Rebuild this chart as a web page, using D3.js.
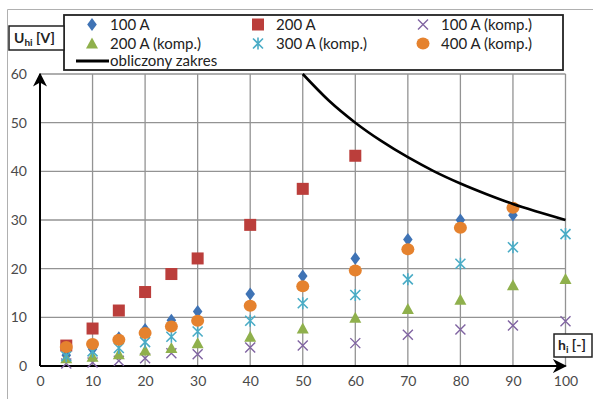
<!DOCTYPE html>
<html>
<head>
<meta charset="utf-8">
<script src="https://cdn.jsdelivr.net/npm/d3@7"></script>
<style>
  body { margin: 0; background: #fff; }
  svg { display: block; font-family: Lato, "Open Sans", sans-serif; }
</style>
</head>
<body>
<div id="chart"></div>
<script>
// data
const hValues = [5, 10, 15, 20, 25, 30, 40, 50, 60, 70, 80, 90, 100];
const xTicks = [0, 10, 20, 30, 40, 50, 60, 70, 80, 90, 100];
const yTicks = [0, 10, 20, 30, 40, 50, 60];

const u100 = [2.2, 3.5, 5.8, 7.5, 9.4, 11.2, 14.8, 18.5, 22.1, 26.0, 30.0, 31.0, null];
const u200 = [4.2, 7.7, 11.4, 15.2, 18.9, 22.1, 29.0, 36.4, 43.2, null, null, null, null];
const u100k = [0.5, 0.7, 1.1, 1.6, 2.6, 2.4, 3.8, 4.2, 4.7, 6.4, 7.5, 8.3, 9.2];
const u200k = [1.6, 1.9, 2.4, 3.2, 3.7, 4.7, 6.0, 7.7, 9.9, 11.7, 13.6, 16.6, 17.9];
const u300k = [2.0, 3.0, 3.7, 4.9, 6.0, 7.1, 9.3, 12.9, 14.6, 17.8, 21.0, 24.4, 27.1];
const u400k = [3.9, 4.5, 5.4, 6.8, 8.1, 9.3, 12.4, 16.4, 19.6, 24.0, 28.4, 32.5, null];

const limitH = [50, 55, 60, 65, 70, 75, 80, 85, 90, 95, 100];
const limitU = [60, 54.5, 50, 46.2, 42.9, 40, 37.5, 35.3, 33.3, 31.6, 30];

const series = [
  { name: '100 A', values: u100, color: '#3f73b5', shape: 'diamond' },
  { name: '200 A', values: u200, color: '#bb3e3b', shape: 'square' },
  { name: '100 A (komp.)', values: u100k, color: '#8064a2', shape: 'x' },
  { name: '200 A (komp.)', values: u200k, color: '#8fb04c', shape: 'triangle' },
  { name: '300 A (komp.)', values: u300k, color: '#4aacc6', shape: 'star' },
  { name: '400 A (komp.)', values: u400k, color: '#e5822e', shape: 'circle' }
];

const width = 593, height = 399;
const svg = d3.select('#chart').append('svg')
  .attr('width', width).attr('height', height);

// outer frame of the picture
svg.append('path')
  .attr('d', 'M7.5,399 V9.5 H593')
  .attr('fill', 'none').attr('stroke', '#b0b0b0').attr('stroke-width', 1);

const x = d3.scaleLinear().domain([0, 100]).range([40, 565.5]);
const y = d3.scaleLinear().domain([0, 60]).range([366, 74]);

// grid
const grid = svg.append('g').attr('stroke', '#939393').attr('stroke-width', 1.3);
grid.selectAll('.vgrid').data(xTicks.filter(d => d > 0)).enter().append('line')
  .attr('x1', d => x(d)).attr('x2', d => x(d))
  .attr('y1', y(60)).attr('y2', y(0));
grid.selectAll('.hgrid').data(yTicks.filter(d => d > 0)).enter().append('line')
  .attr('x1', x(0)).attr('x2', x(100))
  .attr('y1', d => y(d)).attr('y2', d => y(d));

// axes with arrows
const defs = svg.append('defs');
defs.append('marker').attr('id', 'arrow')
  .attr('viewBox', '0 0 10 10').attr('refX', 9).attr('refY', 5)
  .attr('markerWidth', 7).attr('markerHeight', 7).attr('orient', 'auto')
  .attr('markerUnits', 'strokeWidth')
  .append('path').attr('d', 'M0,0 L10,5 L0,10 L3,5 Z').attr('fill', '#000');

svg.append('line')
  .attr('x1', x(0)).attr('x2', x(100)).attr('y1', y(0)).attr('y2', y(0))
  .attr('stroke', '#000').attr('stroke-width', 2).attr('marker-end', 'url(#arrow)');
svg.append('line')
  .attr('x1', x(0)).attr('x2', x(0)).attr('y1', y(0)).attr('y2', y(60))
  .attr('stroke', '#000').attr('stroke-width', 2).attr('marker-end', 'url(#arrow)');

// tick labels
const xAxis = d3.axisBottom(x).tickValues(xTicks).tickSize(0).tickPadding(10);
const gx = svg.append('g').attr('transform', `translate(0,${y(0)})`).call(xAxis);
gx.select('.domain').remove();
gx.selectAll('text').attr('font-size', 14).attr('fill', '#4a4a4a')
  .attr('font-family', 'Lato, sans-serif');

const yAxis = d3.axisLeft(y).tickValues(yTicks).tickSize(0).tickPadding(13);
const gy = svg.append('g').attr('transform', `translate(${x(0)},0)`).call(yAxis);
gy.select('.domain').remove();
gy.selectAll('text').attr('font-size', 14).attr('fill', '#4a4a4a')
  .attr('font-family', 'Lato, sans-serif');

// marker shapes
function drawMarker(g, shape, color) {
  if (shape === 'diamond') {
    g.append('path').attr('d', d3.symbol(d3.symbolDiamond, 60)()).attr('fill', color)
      .attr('transform', 'scale(1.15,0.9)');
  } else if (shape === 'square') {
    g.append('rect').attr('x', -6).attr('y', -6).attr('width', 12).attr('height', 12)
      .attr('fill', color);
  } else if (shape === 'triangle') {
    g.append('path').attr('d', 'M0,-6 L6,5 L-6,5 Z').attr('fill', color);
  } else if (shape === 'circle') {
    g.append('ellipse').attr('rx', 6.5).attr('ry', 6).attr('fill', color);
  } else if (shape === 'x') {
    g.append('path').attr('d', 'M-5,-5 L5,5 M-5,5 L5,-5')
      .attr('stroke', color).attr('stroke-width', 1.4).attr('fill', 'none');
  } else if (shape === 'star') {
    g.append('path').attr('d', 'M-5,-5 L5,5 M-5,5 L5,-5 M0,-6 V6')
      .attr('stroke', color).attr('stroke-width', 1.6).attr('fill', 'none');
  }
}

// data points
series.forEach(s => {
  const pts = hValues.map((h, i) => ({ h, v: s.values[i] })).filter(d => d.v !== null);
  const g = svg.append('g');
  pts.forEach(d => {
    const m = g.append('g').attr('transform', `translate(${x(d.h)},${y(d.v)})`);
    drawMarker(m, s.shape, s.color);
  });
});

// computed range curve
const line = d3.line().curve(d3.curveMonotoneX)
  .x((d, i) => x(limitH[i])).y(d => y(d));
svg.append('path').datum(limitU)
  .attr('d', line).attr('fill', 'none')
  .attr('stroke', '#000').attr('stroke-width', 2.6);

// legend
const legend = svg.append('g');
legend.append('rect').attr('x', 64).attr('y', 15).attr('width', 499).attr('height', 55)
  .attr('fill', '#fff').attr('stroke', '#222').attr('stroke-width', 1.8);

const legendCols = [92, 258, 423];
const legendRows = [24.5, 43.5];
series.forEach((s, i) => {
  const cx = legendCols[i % 3], cy = legendRows[Math.floor(i / 3)];
  const m = legend.append('g').attr('transform', `translate(${cx},${cy})`);
  drawMarker(m, s.shape, s.color);
  legend.append('text').attr('x', cx + 18).attr('y', cy + 5)
    .attr('font-size', 15).attr('fill', '#222').text(s.name);
});
legend.append('line').attr('x1', 76).attr('x2', 109).attr('y1', 61).attr('y2', 61)
  .attr('stroke', '#000').attr('stroke-width', 3);
legend.append('text').attr('x', 110).attr('y', 66)
  .attr('font-size', 15).attr('fill', '#222').text('obliczony zakres');

// axis title boxes
const yTitle = svg.append('g');
yTitle.append('rect').attr('x', 9).attr('y', 26).attr('width', 55).attr('height', 24)
  .attr('fill', '#fff').attr('stroke', '#222').attr('stroke-width', 1.5);
const yt = yTitle.append('text').attr('x', 14).attr('y', 43)
  .attr('font-size', 14).attr('font-weight', 'bold').attr('fill', '#222');
yt.append('tspan').text('U');
yt.append('tspan').attr('font-size', 10).attr('dy', 3).text('hi');
yt.append('tspan').attr('dy', -3).text(' [V]');

const xTitle = svg.append('g');
xTitle.append('rect').attr('x', 554).attr('y', 334).attr('width', 38).attr('height', 23)
  .attr('fill', '#fff').attr('stroke', '#222').attr('stroke-width', 1.5);
const xt = xTitle.append('text').attr('x', 558).attr('y', 350)
  .attr('font-size', 14).attr('font-weight', 'bold').attr('fill', '#222');
xt.append('tspan').text('h');
xt.append('tspan').attr('font-size', 10).attr('dy', 3).text('i');
xt.append('tspan').attr('dy', -3).text(' [-]');
</script>
</body>
</html>
